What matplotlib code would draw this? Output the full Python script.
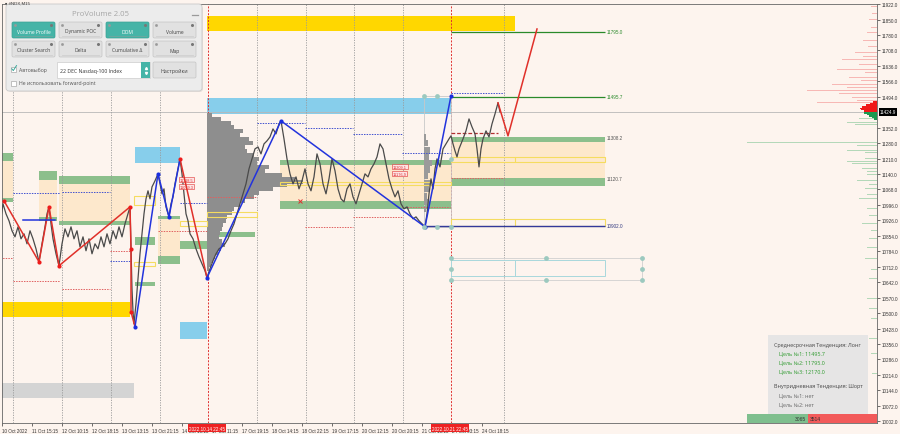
from matplotlib import pyplot as plt
from matplotlib.patches import Rectangle, FancyBboxPatch
import matplotlib.transforms as mtransforms

plt.rcParams['font.family'] = ['Liberation Sans', 'DejaVu Sans']

BG = '#fdf4ee'

# ---- price series (bar index, close) ----
bars = [0, 3, 6, 9, 12, 15, 18, 21, 24, 27, 30, 33, 36, 39,
        42, 45, 47, 49,
        51, 53, 56, 59,
        62, 65, 68, 71, 74, 77, 80, 83, 86, 89, 92, 95, 98, 101, 104, 107, 110, 113, 116, 119, 122, 125, 128, 130,
        131, 132, 133, 134,
        136, 138, 140, 142, 144, 146, 148, 150, 152, 155, 158,
        160, 162, 164, 166, 169,
        171, 173, 175, 177, 180,
        182, 184, 186, 188, 190, 193, 196, 199, 202, 205, 207,
        210, 213, 216, 219, 222, 225, 228, 231, 234, 237, 240, 243, 246, 249, 252, 255, 258, 261, 264, 267, 270, 273, 276, 279, 281,
        284, 287, 290, 293, 296, 299, 302, 305, 308, 311, 314, 317, 320, 323, 326, 329, 332, 335, 338, 341, 344, 347, 350, 353,
        356, 359, 362, 365, 368, 371, 374, 377, 380, 383, 386, 389, 392, 395, 398, 401, 404, 407, 410, 413, 416, 419, 422, 425,
        427, 429, 431, 433, 435, 437, 440, 443, 446, 449, 451,
        453, 455, 457, 459, 461, 463, 466, 469, 472, 475, 477, 479, 481, 483, 486, 489, 492, 495, 498, 500]
close = [10910, 11002, 10956, 10924, 10878, 10850, 10896, 10841, 10864, 10818, 10878, 10841, 10795, 10735,
         10818, 10896, 10956, 10988,
         10910, 10841, 10772, 10717,
         10818, 10887, 10850, 10896, 10841, 10878, 10804, 10850, 10786, 10841, 10772, 10818, 10795, 10850, 10804, 10864, 10818, 10878, 10841, 10896, 10850, 10910, 10956, 10988,
         10795, 10611, 10505, 10450,
         10542, 10657, 10772, 10864, 10956, 11025, 11062, 11025, 11080, 11108, 11140,
         11094, 11048, 11071, 10988, 10942,
         11002, 11034, 11094, 11140, 11209,
         11140, 11048, 10956, 10924, 10864, 10841, 10795, 10758, 10726, 10694, 10662,
         10703, 10740, 10772, 10795, 10804, 10818, 10841, 10878, 10910, 10956, 11002, 11048, 11094, 11163, 11209, 11255, 11264, 11232, 11278, 11292, 11310, 11347, 11324, 11370, 11384,
         11301, 11209, 11140, 11094, 11126, 11071, 11108, 11163, 11094, 11062, 11126, 11232, 11186, 11094, 11048, 11117, 11209, 11154, 11071, 11025, 11011, 11071, 11094, 11034,
         11002, 11048, 11094, 11140, 11126, 11163, 11186, 11218, 11278, 11255, 11186, 11117, 11071, 11034, 11062, 11002, 10979, 10988, 10956, 10933, 10942, 10924, 10910, 10896,
         10956, 11048, 11117, 11071, 11163, 11209, 11172, 11255, 11278, 11301, 11315,
         11278, 11246, 11218, 11255, 11278, 11301, 11338, 11393, 11356, 11324, 11255, 11172, 11255, 11301, 11338, 11310, 11370, 11416, 11467, 11425]
last_price = 11424.9

# ---- zones: (bar_from, bar_to, price_lo, price_hi) ----
yellow_zones = [(207, 515, 11798, 11867), (2, 130, 10482, 10551)]
blue_zones = [(207, 451, 11416, 11490), (135, 180, 11191, 11264), (180, 207, 10381, 10459)]
gray_zones = [(2, 134, 10110, 10179)]
green_zones = [(451, 605, 11287, 11308.2), (451, 605, 11085, 11120.7), (280, 451, 11181, 11204),
               (280, 451, 10979, 11016), (207, 255, 10850, 10873), (180, 207, 10795, 10832),
               (2, 13, 11200, 11237), (2, 13, 11011, 11030), (39, 57, 11112, 11154),
               (59, 130, 11094, 11131), (59, 130, 10905, 10924), (39, 57, 10924, 10942),
               (135, 155, 10813, 10850), (135, 155, 10625, 10643), (158, 180, 10933, 10947),
               (158, 180, 10726, 10763)]
peach_zones = [(451, 605, 11120.7, 11287), (280, 451, 11016, 11181), (59, 130, 10924, 11094),
               (39, 57, 10942, 11112), (2, 13, 11030, 11200), (158, 180, 10763, 10933)]
yellow_boxes = [(451, 605, 11195, 11218), (451, 605, 10901, 10933), (280, 451, 11090, 11103),
                (207, 257, 10942, 10965), (180, 207, 10901, 10924), (134, 155, 10997, 11039),
                (134, 155, 10717, 10735)]

# ---- zigzag ----
zz_red_x = [[4, 39, 49, 59, 130, 131, 131, 135], [180, 207], [498, 508, 537]]
zz_red_p = [[11016, 10735, 10988, 10717, 10988, 10795, 10505, 10436], [11209, 10662], [11467, 11315, 11807]]
zz_blue_x = [[135, 158, 169, 180], [207, 281, 425, 451], [23, 55]]
zz_blue_p = [[10436, 11140, 10942, 11209], [10662, 11384, 10896, 11499], [10928, 10928]]
red_dot_x = [4, 39, 49, 59, 130, 131, 131, 180]
red_dot_p = [11016, 10735, 10988, 10717, 10988, 10795, 10505, 11209]
blue_dot_x = [135, 158, 169, 207, 281, 425, 451]
blue_dot_p = [10436, 11140, 10942, 10662, 11384, 10896, 11499]

# ---- short session levels: (bar_from, bar_to, price) ----
blue_dotted = [(13, 60, 11053), (62, 110, 11057), (110, 130, 10740), (180, 207, 11007), (257, 305, 11375),
               (305, 353, 11352), (353, 402, 11324), (402, 450, 11237), (451, 504, 11513)]
red_dotted = [(0, 13, 10754), (13, 60, 10648), (62, 110, 10611), (110, 130, 10786), (158, 207, 10878),
              (207, 257, 11034), (305, 353, 10896), (353, 402, 10942), (402, 450, 10988), (451, 504, 11122)]

# ---- volume profile ----
vp_price = [11411, 11393, 11375, 11356, 11338, 11319, 11301, 11283, 11264, 11246, 11227, 11209, 11191, 11172,
            11154, 11136, 11117, 11103, 11090, 11071, 11053, 11034, 11016, 10998, 10979, 10961, 10942, 10924,
            10905, 10887, 10869, 10850, 10832, 10814, 10795, 10777, 10758, 10740, 10721, 10703]
vp_width = [5, 14, 24, 27, 36, 33, 42, 46, 38, 40, 47, 52, 50, 62, 58, 75, 88, 96, 80, 66, 52, 47, 38, 33,
            27, 25, 20, 19, 16, 15, 13, 12, 15, 18, 14, 11, 8, 6, 4, 2]
vp2_price = [11310, 11280, 11250, 11220, 11190, 11160, 11130, 11100, 11070, 11040, 11010, 10980]
vp2_width = [2, 4, 6, 5, 8, 6, 4, 7, 5, 3, 4, 2]

# ---- DOM ----
ask_price = [11910, 11899, 11880, 11867, 11850, 11830, 11815, 11790, 11770, 11755, 11738, 11725, 11715, 11700,
             11692, 11680, 11665, 11655, 11645, 11632, 11622, 11614, 11605, 11595, 11585, 11577, 11570, 11563,
             11553, 11545, 11538, 11531, 11524, 11517, 11510, 11503, 11498, 11494, 11490, 11485, 11480, 11476,
             11471, 11467, 11462, 11457, 11452, 11448, 11443, 11439, 11434, 11430]
ask_size = [6, 15, 5, 10, 8, 8, 6, 10, 12, 14, 20, 9, 18, 22, 25, 14, 35, 97, 18, 15, 40, 30, 12, 20, 28, 35,
            16, 101, 45, 20, 30, 25, 70, 60, 38, 45, 50, 42, 25, 30, 48, 20, 35, 60, 25, 15, 20, 12, 18, 10, 14, 8]
bid_price = [11421, 11411, 11402, 11395, 11388, 11375, 11366, 11356, 11342, 11333, 11324, 11310, 11296, 11283,
             11270, 11264, 11246, 11238, 11227, 11209, 11198, 11186, 11163, 11150, 11136, 11108, 11090, 11071,
             11045, 11025, 10979, 10950, 10910, 10880, 10841, 10800, 10749, 10700, 10657, 10610, 10565, 10520,
             10473, 10430, 10381, 10312, 10220]
bid_size = [12, 10, 25, 18, 15, 30, 22, 101, 20, 14, 40, 18, 25, 130, 20, 15, 30, 12, 20, 12, 30, 25, 15, 10,
            10, 20, 8, 12, 10, 18, 10, 8, 15, 6, 8, 10, 12, 6, 8, 10, 10, 8, 6, 8, 8, 6, 5]
hot_ask_price = [11470, 11463, 11456, 11449, 11442, 11436, 11430]
hot_ask_size = [4, 7, 11, 15, 17, 16, 13]
hot_bid_price = [11420, 11413, 11406, 11399, 11392]
hot_bid_size = [13, 10, 8, 5, 3]

# ---- axes labels ----
ytick_vals = [11922, 11850, 11780, 11708, 11636, 11566, 11494, 11352, 11280, 11210, 11140, 11068, 10996,
              10926, 10854, 10784, 10712, 10642, 10570, 10500, 10428, 10356, 10286, 10214, 10144, 10072, 10002]
xtick_pos = [2, 32, 62, 92, 122, 152, 182, 212, 242, 272, 302, 332, 362, 392, 422, 452, 482]
xtick_lab = ['10 Oct 2022', '11 Oct 15:15', '12 Oct 10:15', '12 Oct 18:15', '13 Oct 13:15', '13 Oct 21:15',
             '14 Oct 16:15', '17 Oct 11:15', '17 Oct 19:15', '18 Oct 14:15', '18 Oct 22:15', '19 Oct 17:15',
             '20 Oct 12:15', '20 Oct 20:15', '21 Oct 15:15', '24 Oct 03:15', '24 Oct 18:15']
grid_x = [13, 62, 111, 160, 257, 306, 354, 403, 504]
session_x = [208, 451]
session_lab = ['2022.10.14 22:45', '2022.10.21 22:45']
level_lab = [(11795.0, '#2a8a2a'), (11495.7, '#2a8a2a'), (11308.2, '#555555'), (11120.7, '#555555'), (10902.0, '#333a80')]
red_tags = [(180, 11112, '11118.5'), (180, 11080, '11079.3'), (393, 11172, '11209.1'), (393, 11140, '11176.9')]
teal_pts_x = [424, 437, 424, 437, 451, 451, 451, 451, 451, 546, 546, 642, 642, 642]
teal_pts_p = [11499, 11499, 10896, 10896, 10896, 11210, 10754, 10703, 10652, 10754, 10652, 10754, 10703, 10652]

buttons = [('Volume Profile', True), ('Dynamic POC', False), ('DOM', True), ('Volume', False),
           ('Cluster Search', False), ('Delta', False), ('Cumulative Δ', False), ('Map', False)]
info_lines = [('Среднесрочная Тенденция: Лонг', '#444444', 0),
              ('Цель №1: 11495.7', '#2e9a2e', 1), ('Цель №2: 11795.0', '#2e9a2e', 1), ('Цель №3: 12170.0', '#2e9a2e', 1),
              ('Внутридневная Тенденция: Шорт', '#444444', 0),
              ('Цель №1: нет', '#666666', 1), ('Цель №2: нет', '#666666', 1)]

fig = plt.figure(figsize=(9, 4.35), dpi=100, facecolor=BG)
ax = fig.add_axes([2 / 900, 11 / 435, 875 / 900, 419 / 435])
ax.set_facecolor(BG)
ax.set_xlim(2, 877)
ax.set_ylim(9993, 11922)


def zone(x0, x1, lo, hi, **kw):
    ax.add_patch(Rectangle((x0, lo), x1 - x0, hi - lo, **kw))


for z in peach_zones:
    zone(*z, facecolor='#fde8cc', edgecolor='none', zorder=1)
for z in yellow_zones:
    zone(*z, facecolor='#ffd700', edgecolor='none', zorder=2)
for z in blue_zones:
    zone(*z, facecolor='#87ceeb', edgecolor='none', zorder=2)
for z in gray_zones:
    zone(*z, facecolor='#d4d4d4', edgecolor='none', zorder=2)
for z in green_zones:
    zone(*z, facecolor='#8cbf8c', edgecolor='none', zorder=2)
for z in yellow_boxes:
    zone(*z, facecolor='none', edgecolor='#f5dc60', lw=0.8, zorder=3.5)
ax.vlines([515, 515], [11195, 10901], [11218, 10933], colors='#f5dc60', lw=0.8, zorder=3.5)

# helper boxes of the zigzag projection
zone(424, 451, 10896, 11499, facecolor='none', edgecolor='#c8c8c8', lw=0.6, zorder=3)
zone(451, 642, 10652, 10754, facecolor='none', edgecolor='#d0d0d0', lw=0.6, zorder=3)
zone(451, 605, 10671, 10744, facecolor='none', edgecolor='#a8d8dc', lw=0.7, zorder=3)
ax.vlines(515, 10671, 10744, colors='#a8d8dc', lw=0.7, zorder=3)

# grid / sessions
for gx in grid_x:
    ax.axvline(gx, color='#9a9a9a', lw=0.6, ls=(0, (1.5, 1.5)), zorder=2.5)
for sx in session_x:
    ax.axvline(sx, color='#e03030', lw=0.7, ls=(0, (2, 1.5)), zorder=2.5)
ax.axhline(last_price, color='#b8b8b8', lw=0.6, zorder=2.4)

# volume profiles
ax.barh(vp_price, vp_width, left=207, height=18.5, color='#8e8e8e', edgecolor='none', zorder=3)
ax.barh(vp2_price, vp2_width, left=424, height=28, color='#9a9a9a', edgecolor='none', zorder=3)

# DOM
ax.barh(ask_price, [-s for s in ask_size], left=877, height=3.5, color='#f07070', alpha=0.45, zorder=3)
ax.barh(bid_price, [-s for s in bid_size], left=877, height=3.5, color='#5cb87a', alpha=0.45, zorder=3)
ax.barh(hot_ask_price, [-s for s in hot_ask_size], left=877, height=7, color='#f01818', zorder=3)
ax.barh(hot_bid_price, [-s for s in hot_bid_size], left=877, height=7, color='#1a9a50', zorder=3)

# levels
for x0, x1, p in blue_dotted:
    ax.hlines(p, x0, x1, colors='#4050d0', lw=0.7, linestyles=(0, (1.5, 1.2)), zorder=3.5)
for x0, x1, p in red_dotted:
    ax.hlines(p, x0, x1, colors='#e06060', lw=0.7, linestyles=(0, (1.5, 1.2)), zorder=3.5)
ax.hlines(11329, 451, 498, colors='#b03030', lw=0.9, linestyles=(0, (3, 1.5)), zorder=3.5)
ax.hlines([11795.0, 11495.7], 451, 605, colors='#2a8a2a', lw=0.9, zorder=3.6)
ax.hlines(10902.0, 424, 605, colors='#333a9a', lw=1.0, zorder=3.6)
for p, c in level_lab:
    ax.text(607, p, f'{p:.1f}', color=c, fontsize=3.3, va='center', ha='left', zorder=4)

# price
ax.plot(bars, close, color='#4a4a4a', lw=0.9, zorder=4)
ax.plot(300, 11015, marker='x', color='#e03030', ms=2.5, mew=0.7, zorder=4)

for tx, tp, tl in red_tags:
    ax.text(tx, tp, tl, fontsize=2.8, color='#e03030', va='center', ha='left', zorder=5,
            bbox=dict(facecolor='#fde4e4', edgecolor='#e03030', lw=0.4, pad=0.4))

# zigzag
for xs, ps in zip(zz_red_x, zz_red_p):
    ax.plot(xs, ps, color='#e0302a', lw=1.1, zorder=5)
for xs, ps in zip(zz_blue_x, zz_blue_p):
    ax.plot(xs, ps, color='#2233dd', lw=1.1, zorder=5)
ax.scatter(red_dot_x, red_dot_p, s=9, color='#ee1c1c', zorder=6, linewidths=0)
ax.scatter(blue_dot_x, blue_dot_p, s=9, color='#1a2ee0', zorder=6, linewidths=0)
ax.scatter(teal_pts_x, teal_pts_p, s=12, color='#9cc9bf', zorder=6, linewidths=0)

# axes look
for s in ['left', 'right', 'top', 'bottom']:
    ax.spines[s].set_color('#666666')
    ax.spines[s].set_linewidth(0.6)
ax.yaxis.tick_right()
ax.set_yticks(ytick_vals)
ax.set_yticklabels([f'{v:.1f}' for v in ytick_vals])
ax.set_xticks(xtick_pos)
ax.set_xticklabels(xtick_lab)
for lab in ax.get_xticklabels():
    lab.set_ha('left')
ax.tick_params(axis='both', labelsize=3.3, colors='#333333', length=2, width=0.5, pad=1.5)

tr_x = mtransforms.blended_transform_factory(ax.transData, ax.transAxes)
for sx, sl in zip(session_x, session_lab):
    ax.text(sx - 1, -0.006, sl, transform=tr_x, fontsize=3.3, color='white', ha='center', va='top',
            clip_on=False, zorder=7, bbox=dict(facecolor='#ee2222', edgecolor='none', pad=0.8))
tr_y = mtransforms.blended_transform_factory(ax.transAxes, ax.transData)
ax.text(1.003, last_price, f'{last_price:.1f}', transform=tr_y, fontsize=3.3, color='white', ha='left',
        va='center', clip_on=False, zorder=7, bbox=dict(facecolor='black', edgecolor='none', pad=0.8))

# ---- overlay (terminal UI panels, pixel units) ----
ov = fig.add_axes([0, 0, 1, 1], zorder=10)
ov.set_xlim(0, 900)
ov.set_ylim(435, 0)
ov.axis('off')
ov.patch.set_alpha(0)
ui_font = ['Open Sans', 'DejaVu Sans']

ov.text(5, 4, '▾ #NDX,M15', fontsize=3.2, color='#333333', va='center')

ov.add_patch(FancyBboxPatch((8, 7), 195, 86, boxstyle='round,pad=0,rounding_size=3',
                            fc='#000000', ec='none', alpha=0.08))
ov.add_patch(FancyBboxPatch((6, 5), 196, 87, boxstyle='round,pad=0,rounding_size=3',
                            fc='#ececec', ec='#c9c9c9', lw=0.6))
ov.text(100, 14, 'ProVolume 2.05', ha='center', va='center', fontsize=5.6, color='#a6a6a6', family=ui_font)
ov.plot([192, 198], [16, 16], color='#9a9a9a', lw=0.9)

for i, (name, active) in enumerate(buttons):
    bx = 12 + 47 * (i % 4)
    by = 23 + 19 * (i // 4)
    fc = '#45b4a7' if active else '#e1e1e1'
    ov.add_patch(FancyBboxPatch((bx, by), 43, 16, boxstyle='round,pad=0,rounding_size=1.5',
                                fc=fc, ec='#c4c4c4' if not active else '#3aa295', lw=0.5))
    ov.text(bx + 21.5, by + 9, name, ha='center', va='center', fontsize=3.6,
            color='white' if active else '#444444', family=ui_font)
    ov.plot([bx + 3, bx + 40], [by + 14.2, by + 14.2], color='#6fa89f' if active else '#d0d0d0', lw=0.6)
    ov.plot([bx + 39], [by + 2.5], marker='o', ms=1.2, color='#777777')
    ov.plot([bx + 3], [by + 2.5], marker='s', ms=0.9, color='#999999')

ov.add_patch(Rectangle((11, 67.5), 5, 5, fc='white', ec='#aaaaaa', lw=0.5))
ov.plot([11.8, 13.3, 16.5], [69.8, 71.6, 66.6], color='#3aa89a', lw=0.7)
ov.text(19, 70.5, 'Автовыбор', fontsize=3.7, color='#555555', va='center', family=ui_font)
ov.add_patch(Rectangle((57, 63), 93, 16, fc='white', ec='#cccccc', lw=0.5))
ov.add_patch(Rectangle((141, 63), 9, 16, fc='#45b4a7', ec='none'))
ov.plot([145.5], [68.5], marker='^', ms=1.5, color='white')
ov.plot([145.5], [73.5], marker='v', ms=1.5, color='white')
ov.text(60, 71, '22 DEC Nasdaq-100 Index', fontsize=3.7, color='#333333', va='center', family=ui_font)
ov.add_patch(FancyBboxPatch((153, 63), 43, 16, boxstyle='round,pad=0,rounding_size=1.5',
                            fc='#e1e1e1', ec='#c4c4c4', lw=0.5))
ov.text(174.5, 71, 'Настройки', fontsize=3.8, color='#444444', ha='center', va='center', family=ui_font)
ov.add_patch(Rectangle((11, 81.5), 5, 5, fc='white', ec='#aaaaaa', lw=0.5))
ov.text(19, 84, 'Не использовать forward-point', fontsize=3.7, color='#555555', va='center', family=ui_font)

# trend info panel
ov.add_patch(Rectangle((768, 336), 100, 79, fc='#e5e5e5', ec='none', alpha=0.95))
line_y = [345, 354, 363, 372, 386, 396, 405]
for (txt, col, indent), yy in zip(info_lines, line_y):
    ov.text(774 + 5 * indent, yy, txt, fontsize=3.9, color=col, va='center', family=ui_font)

# buy / sell volume bar
ov.add_patch(Rectangle((747, 415), 61, 9, fc='#7fbf8e', ec='none'))
ov.add_patch(Rectangle((808, 415), 69, 9, fc='#f25a5a', ec='none'))
ov.text(806, 419.5, '3065', fontsize=3.6, color='#333333', ha='right', va='center')
ov.text(810, 419.5, '3514', fontsize=3.6, color='#333333', ha='left', va='center')

fig.savefig('out.png', dpi=100, facecolor=BG)
